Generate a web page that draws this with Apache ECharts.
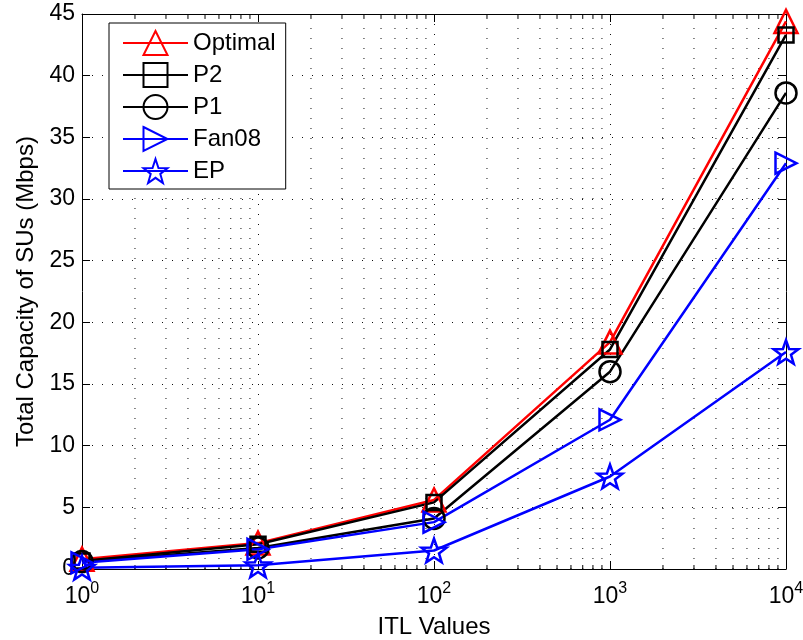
<!DOCTYPE html>
<html>
<head>
<meta charset="utf-8">
<script src="https://cdn.jsdelivr.net/npm/echarts@6/dist/echarts.min.js"></script>
<style>html,body{margin:0;padding:0;background:#fff}#c{width:803px;height:640px}</style>
</head>
<body>
<div id="c"></div>
<script>
var itlValues = [1, 10, 100, 1000, 10000];
var optimal = [0.8, 2.1, 5.6, 18.4, 44.4];
var p2      = [0.65, 2.0, 5.4, 17.8, 43.3];
var p1      = [0.6, 1.7, 4.1, 16.0, 38.6];
var fan08   = [0.5, 1.6, 3.8, 12.1, 32.9];
var ep      = [0.1, 0.3, 1.5, 7.5, 17.6];
var seriesNames = ['Optimal', 'P2', 'P1', 'Fan08', 'EP'];
var yTicks = [0, 45, 5];
var minorX = [2,3,4,5,6,7,8,9,20,30,40,50,60,70,80,90,200,300,400,500,600,700,800,900,2000,3000,4000,5000,6000,7000,8000,9000];

var FONT = '"Liberation Sans", Arial, Helvetica, sans-serif';
var starPath = 'path://M0,-10 L2.35,-3.24 L9.51,-3.09 L3.8,1.24 L5.88,8.09 L0,4.2 L-5.88,8.09 L-3.8,1.24 L-9.51,-3.09 L-2.35,-3.24 Z';
var rightTri = 'path://M0,0 L10,5 L0,10 Z';

function pair(vals){ return itlValues.map(function(x,i){ return [x, vals[i]]; }); }
function mk(name, vals, color, symbol, size){
  return {
    name: name, type: 'line', data: pair(vals),
    symbol: symbol, symbolSize: size, symbolKeepAspect: true,
    showAllSymbol: true,
    lineStyle: {color: color, width: 2.5},
    itemStyle: {color: 'rgba(0,0,0,0)', borderColor: color, borderWidth: 2.5},
    emphasis: {disabled: true},
    z: 3, animation: false
  };
}
var dotted = {color: '#111', width: 1, type: [1, 9]};

var chart = echarts.init(document.getElementById('c'), null, {renderer: 'canvas'});
chart.setOption({
  animation: false,
  backgroundColor: '#fff',
  textStyle: {fontFamily: FONT},
  grid: {left: 82, right: 17, top: 14, bottom: 71, containLabel: false, outerBoundsMode: 'none'},
  legend: {
    left: 109, top: 23, orient: 'vertical',
    data: seriesNames,
    itemWidth: 65, itemHeight: 30, itemGap: 6,
    padding: [7, 10, 5, 13],
    borderColor: '#000', borderWidth: 1, backgroundColor: '#fff',
    textStyle: {fontSize: 24, color: '#000', fontFamily: FONT},
    z: 10
  },
  xAxis: [{
    type: 'log', logBase: 10, min: 1, max: 10000,
    position: 'bottom',
    name: 'ITL Values', nameLocation: 'middle', nameGap: 46,
    nameTextStyle: {fontSize: 24, color: '#000', fontFamily: FONT},
    axisLine: {onZero: false, lineStyle: {color: '#000', width: 1}},
    axisTick: {inside: true, length: 8, lineStyle: {color: '#000'}},
    splitLine: {show: true, lineStyle: dotted},
    axisLabel: {
      color: '#000', margin: 12,
      formatter: function(v){ var e = Math.round(Math.log10(v)); return '{b|10}{s|' + e + '}'; },
      rich: {
        b: {fontSize: 23, fontFamily: FONT, color: '#000'},
        s: {fontSize: 16, fontFamily: FONT, color: '#000', padding: [0, 0, 16, 0]}
      }
    }
  }, {
    type: 'log', logBase: 10, min: 1, max: 10000,
    position: 'top',
    axisLine: {onZero: false, lineStyle: {color: '#000', width: 1}},
    axisTick: {inside: true, length: 8, lineStyle: {color: '#000'}},
    axisLabel: {show: false}, splitLine: {show: false}
  }],
  yAxis: [{
    type: 'value', min: yTicks[0], max: yTicks[1], interval: yTicks[2],
    position: 'left',
    name: 'Total Capacity of SUs (Mbps)', nameLocation: 'middle', nameGap: 44,
    nameTextStyle: {fontSize: 24, color: '#000', fontFamily: FONT},
    axisLine: {show: true, onZero: false, lineStyle: {color: '#000', width: 1}},
    axisTick: {show: true, inside: true, length: 8, lineStyle: {color: '#000'}},
    splitLine: {show: true, lineStyle: dotted},
    axisLabel: {fontSize: 23, color: '#000', margin: 7, fontFamily: FONT}
  }, {
    type: 'value', min: yTicks[0], max: yTicks[1], interval: yTicks[2],
    position: 'right',
    axisLine: {show: true, onZero: false, lineStyle: {color: '#000', width: 1}},
    axisTick: {show: true, inside: true, length: 8, lineStyle: {color: '#000'}},
    axisLabel: {show: false}, splitLine: {show: false}
  }],
  series: [
    {
      type: 'custom', name: 'minorgrid', silent: true, z: 1,
      data: minorX.map(function(x){ return [x, yTicks[0]]; }),
      encode: {x: 0, y: 1},
      renderItem: function(params, api){
        var x = api.value(0);
        var b = api.coord([x, yTicks[0]]);
        var t = api.coord([x, yTicks[1]]);
        return {type: 'group', children: [
          {type: 'line', shape: {x1: b[0], y1: b[1], x2: t[0], y2: t[1]}, style: {stroke: '#111', lineWidth: 1, lineDash: [1, 9]}},
          {type: 'line', shape: {x1: b[0], y1: b[1], x2: b[0], y2: b[1] - 4}, style: {stroke: '#000', lineWidth: 1}},
          {type: 'line', shape: {x1: t[0], y1: t[1], x2: t[0], y2: t[1] + 4}, style: {stroke: '#000', lineWidth: 1}}
        ]};
      },
      animation: false
    },
    mk('Optimal', optimal, '#ff0000', 'triangle', 23),
    mk('P2', p2, '#000000', 'rect', 15),
    mk('P1', p1, '#000000', 'circle', 21),
    mk('Fan08', fan08, '#0000ff', rightTri, 21),
    mk('EP', ep, '#0000ff', starPath, 25)
  ]
});
</script>
</body>
</html>
